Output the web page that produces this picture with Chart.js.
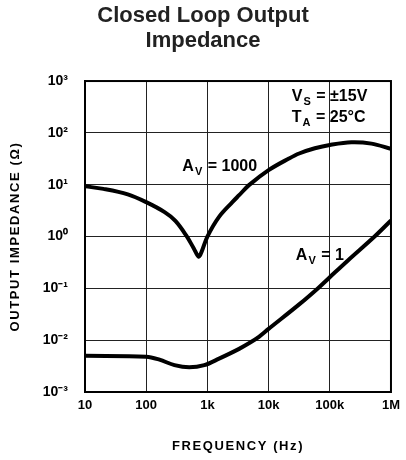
<!DOCTYPE html>
<html><head><meta charset="utf-8">
<script src="https://cdn.jsdelivr.net/npm/chart.js@4/dist/chart.umd.min.js"></script>
<style>html,body{margin:0;padding:0;background:#fff}</style>
</head><body>
<canvas id="c" width="406" height="460"></canvas>
<script>
// ---- data ----
const av1000Freq = [10, 20, 50, 100, 200, 300, 450, 600, 720, 800, 1000, 1550, 2580, 3300, 4780, 10000, 21500, 31600, 57000, 100000, 226000, 480000, 1000000];
const av1000Z    = [9.3, 8.3, 6.5, 4.6, 2.95, 2.0, 1.05, 0.59, 0.41, 0.5, 1.0, 2.4, 4.65, 6.27, 9.8, 19.1, 32, 40, 50.4, 58.5, 66, 62, 49];
const av1Freq = [10, 100, 165, 290, 505, 890, 1550, 3300, 5000, 6950, 10000, 31600, 65000, 100000, 200000, 540000, 1000000];
const av1Z    = [0.005, 0.0048, 0.0042, 0.0033, 0.0030, 0.0033, 0.0044, 0.0068, 0.0090, 0.0116, 0.0165, 0.049, 0.102, 0.164, 0.35, 1.0, 2.04];
const xTickValues = [10, 100, 1000, 10000, 100000, 1000000];
const xTickLabels = ['10', '100', '1k', '10k', '100k', '1M'];
const yTickValues = [0.001, 0.01, 0.1, 1, 10, 100, 1000];
const yTickLabels = ['10\u207B\u00B3', '10\u207B\u00B2', '10\u207B\u00B9', '10\u2070', '10\u00B9', '10\u00B2', '10\u00B3'];
const titleLines = ['Closed Loop Output', 'Impedance'];
const xTitle = 'FREQUENCY (Hz)';
const yTitle = 'OUTPUT IMPEDANCE (\u03A9)';
// annotation texts: [main, subscript, rest] anchored at (freq, impedance) = left/baseline
const noteText = [['A', 'V', ' = 1000'], ['A', 'V', ' = 1'], ['V', 'S', ' = \u00B115V'], ['T', 'A', ' = 25\u00B0C']];
const noteFreq = [390, 27900, 24000, 24000];
const noteZ    = [18.2, 0.355, 410, 161];

const FONT = '"Liberation Sans", Arial, Helvetica, sans-serif';

function pts(xs, ys) { return xs.map((x, i) => ({x: x, y: ys[i]})); }

const framePlugin = {
  id: 'frame',
  beforeDatasetsDraw(chart) {
    const {ctx, chartArea: a} = chart;
    ctx.save();
    ctx.strokeStyle = '#000';
    ctx.lineWidth = 2;
    ctx.strokeRect(a.left, a.top, a.right - a.left, a.bottom - a.top);
    ctx.restore();
  }
};

const spacingPlugin = {
  id: 'titleSpacing',
  beforeDraw(chart) {
    ['x', 'y'].forEach(id => {
      const s = chart.scales[id];
      if (s && !s._spPatched) {
        const orig = s.drawTitle;
        s.drawTitle = function () {
          const ctx = this.ctx;
          ctx.save();
          ctx.letterSpacing = '1.6px';
          orig.apply(this, arguments);
          ctx.restore();
        };
        s._spPatched = true;
      }
    });
  }
};

const notesPlugin = {
  id: 'notes',
  afterDatasetsDraw(chart) {
    const {ctx} = chart;
    const xs = chart.scales.x, ys = chart.scales.y;
    ctx.save();
    ctx.fillStyle = '#000';
    ctx.textBaseline = 'alphabetic';
    ctx.textAlign = 'left';
    noteText.forEach((parts, i) => {
      let px = xs.getPixelForValue(noteFreq[i]);
      const py = ys.getPixelForValue(noteZ[i]);
      ctx.font = 'bold 16px ' + FONT;
      ctx.fillText(parts[0], px, py);
      px += ctx.measureText(parts[0]).width + 1;
      ctx.font = 'bold 11px ' + FONT;
      ctx.fillText(parts[1], px, py + 4);
      px += ctx.measureText(parts[1]).width + 1;
      ctx.font = 'bold 16px ' + FONT;
      ctx.fillText(parts[2], px, py);
    });
    ctx.restore();
  }
};

new Chart(document.getElementById('c'), {
  type: 'line',
  data: {
    datasets: [
      {label: 'AV = 1000', data: pts(av1000Freq, av1000Z), borderColor: '#000', borderWidth: 4, pointRadius: 0, tension: 0.35, fill: false},
      {label: 'AV = 1', data: pts(av1Freq, av1Z), borderColor: '#000', borderWidth: 4, pointRadius: 0, tension: 0.35, fill: false}
    ]
  },
  options: {
    responsive: false,
    animation: false,
    devicePixelRatio: 1,
    layout: {padding: 0},
    plugins: {
      legend: {display: false},
      tooltip: {enabled: false},
      title: {
        display: true, text: titleLines, color: '#222',
        font: {family: FONT, size: 22, weight: 'bold', lineHeight: 1.16},
        padding: {top: 3, bottom: 27}
      }
    },
    scales: {
      x: {
        type: 'logarithmic', min: 10, max: 1000000,
        afterBuildTicks(s) { s.ticks = xTickValues.map(v => ({value: v})); },
        afterFit(s) { s.height = 68; },
        ticks: {
          color: '#000', padding: 6, maxRotation: 0, autoSkip: false,
          font: {family: FONT, size: 13, weight: 'bold'},
          callback(v) { const i = xTickValues.indexOf(v); return i >= 0 ? xTickLabels[i] : ''; }
        },
        grid: {color: '#222', lineWidth: 1, drawTicks: false},
        border: {display: true, color: '#000', width: 2},
        title: {display: true, text: xTitle, color: '#000', font: {family: FONT, size: 13, weight: 'bold', lineHeight: 1.2}, padding: {top: 0, bottom: 6}}
      },
      y: {
        type: 'logarithmic', min: 0.001, max: 1000,
        afterBuildTicks(s) { s.ticks = yTickValues.map(v => ({value: v})); },
        afterFit(s) { s.width = 85; },
        ticks: {
          color: '#000', padding: 17, autoSkip: false,
          font: {family: FONT, size: 14, weight: 'bold'},
          callback(v) { const i = yTickValues.findIndex(t => Math.abs(Math.log10(t) - Math.log10(v)) < 1e-6); return i >= 0 ? yTickLabels[i] : ''; }
        },
        grid: {color: '#222', lineWidth: 1, drawTicks: false},
        border: {display: true, color: '#000', width: 2},
        title: {display: true, text: yTitle, color: '#000', font: {family: FONT, size: 13, weight: 'bold', lineHeight: 1.2}, padding: {top: 8, bottom: 0}}
      },
      yRight: {
        type: 'linear', position: 'right', min: 0, max: 1,
        afterFit(s) { s.width = 13; },
        ticks: {display: false},
        grid: {display: false, drawTicks: false},
        border: {display: false}
      }
    }
  },
  plugins: [framePlugin, spacingPlugin, notesPlugin]
});
</script>
</body></html>
